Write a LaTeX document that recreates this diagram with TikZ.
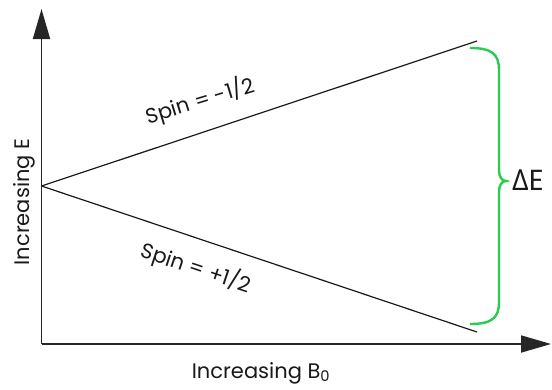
\documentclass[tikz,border=0pt]{standalone}
\usepackage{fontspec}
\setmainfont{Poppins}
\newfontfamily\deltafont{Open Sans}
\usetikzlibrary{arrows.meta}
\definecolor{bracegreen}{RGB}{40,205,80}
\tikzset{
  axis/.style={line width=1.8pt, draw=black!85, -{Triangle[length=30pt,width=17pt]}},
  level/.style={line width=1.2pt, draw=black!90},
  lbl/.style={font=\fontsize{21}{24}\selectfont, inner sep=0pt, text=black!90},
  brace/.style={line width=2.4pt, draw=bracegreen}
}
\begin{document}
\begin{tikzpicture}[x=1pt,y=-1pt]
\useasboundingbox (0,0) rectangle (552,389);
\coordinate (orig) at (41.5,344);
\coordinate (ytop) at (41.5,9);
\coordinate (xend) at (551,344);
\coordinate (O) at (41.5,186);
\coordinate (U) at (477,41);
\coordinate (L) at (477,332);
\draw[axis] (orig) -- (ytop);
\draw[axis] (orig) -- (xend);
\draw[level] (O) -- (U);
\draw[level] (O) -- (L);
\draw[brace] (470,48) .. controls (492,48) and (499,54) .. (499,70)
  -- (499,170) .. controls (499,177) and (502,181) .. (506,181)
  .. controls (502,181) and (499,185) .. (499,192)
  -- (499,302) .. controls (499,318) and (492,324) .. (470,324);
\node[lbl, rotate=17] (up) at (200,101) {Spin = -1/2};
\node[lbl, rotate=-18.4] (lo) at (196,268) {Spin = +1/2};
\node[lbl, rotate=90] (ye) at (24,202) {Increasing E};
\node[lbl, anchor=base] (xb) at (261,378) {Increasing B\textsubscript{0}};
\node[lbl, font=\fontsize{29}{32}\selectfont, anchor=base west] (de) at (512,190) {{\deltafont Δ}E};
\end{tikzpicture}
\end{document}
